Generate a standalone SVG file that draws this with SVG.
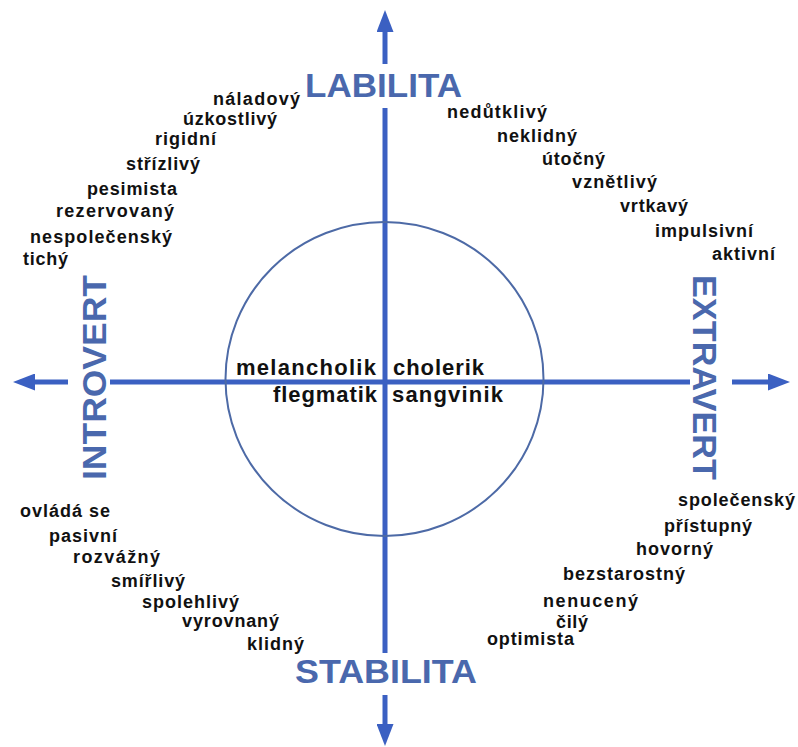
<svg xmlns="http://www.w3.org/2000/svg" width="798" height="747" viewBox="0 0 798 747">
<style>
.axis{stroke:#3b60c2;stroke-width:5;fill:none}
.circ{stroke:#4d6aa6;stroke-width:2;fill:none}
.lbl{font-family:"Liberation Sans",Arial,sans-serif;font-weight:bold;fill:#4a68ad;font-size:34px}
.w{font-family:"Liberation Sans",Arial,sans-serif;font-weight:bold;fill:#111;font-size:18px}
.t{font-family:"Liberation Sans",Arial,sans-serif;font-weight:bold;fill:#111;font-size:22px}
</style>
<defs>
<marker id="ah" viewBox="0 0 22 17" refX="0" refY="8.5" markerWidth="22" markerHeight="17" markerUnits="userSpaceOnUse" orient="auto">
<path d="M0,0 L22,8.5 L0,17 z" fill="#3b60c2"/>
</marker>
</defs>
<rect width="798" height="747" fill="#fff"/>
<g id="connectors">
<line class="axis" x1="385" y1="64" x2="385" y2="32" marker-end="url(#ah)"/>
<line class="axis" x1="385" y1="695" x2="385" y2="724" marker-end="url(#ah)"/>
<line class="axis" x1="68" y1="382" x2="35" y2="382" marker-end="url(#ah)"/>
<line class="axis" x1="732" y1="382" x2="768" y2="382" marker-end="url(#ah)"/>
<line class="axis" x1="385" y1="108" x2="385" y2="653"/>
<line class="axis" x1="110" y1="382" x2="690" y2="382"/>
</g>
<g id="circle"><ellipse class="circ" cx="384.5" cy="379" rx="159" ry="157"/></g>
<g id="labilita"><text class="lbl" x="305" y="97" textLength="157" lengthAdjust="spacingAndGlyphs">LABILITA</text></g>
<g id="stabilita"><text class="lbl" x="295" y="683" textLength="182" lengthAdjust="spacingAndGlyphs">STABILITA</text></g>
<g id="introvert"><text class="lbl" font-size="36" transform="translate(106,377.5) rotate(-90)" text-anchor="middle" textLength="205" lengthAdjust="spacingAndGlyphs">INTROVERT</text></g>
<g id="extravert"><text class="lbl" font-size="36" transform="translate(693,377.5) rotate(90)" text-anchor="middle" textLength="205" lengthAdjust="spacingAndGlyphs">EXTRAVERT</text></g>
<g id="temperaments">
<text class="t" x="236" y="375" textLength="140" lengthAdjust="spacing">melancholik</text>
<text class="t" x="393" y="375" textLength="91" lengthAdjust="spacing">cholerik</text>
<text class="t" x="273" y="402" textLength="104" lengthAdjust="spacing">flegmatik</text>
<text class="t" x="392" y="402" textLength="111" lengthAdjust="spacing">sangvinik</text>
</g>
<g id="words-tl">
<text class="w" x="213" y="105" textLength="87" lengthAdjust="spacing">náladový</text>
<text class="w" x="183" y="125" textLength="94" lengthAdjust="spacing">úzkostlivý</text>
<text class="w" x="155" y="145" textLength="61" lengthAdjust="spacing">rigidní</text>
<text class="w" x="126" y="170" textLength="74" lengthAdjust="spacing">střízlivý</text>
<text class="w" x="87" y="195" textLength="90" lengthAdjust="spacing">pesimista</text>
<text class="w" x="56" y="217" textLength="118" lengthAdjust="spacing">rezervovaný</text>
<text class="w" x="30" y="243" textLength="142" lengthAdjust="spacing">nespolečenský</text>
<text class="w" x="23" y="265" textLength="45" lengthAdjust="spacing">tichý</text>
</g>
<g id="words-tr">
<text class="w" x="447" y="118" textLength="100" lengthAdjust="spacing">nedůtklivý</text>
<text class="w" x="497" y="142" textLength="80" lengthAdjust="spacing">neklidný</text>
<text class="w" x="542" y="165" textLength="63" lengthAdjust="spacing">útočný</text>
<text class="w" x="572" y="188" textLength="85" lengthAdjust="spacing">vznětlivý</text>
<text class="w" x="620" y="212" textLength="68" lengthAdjust="spacing">vrtkavý</text>
<text class="w" x="655" y="237" textLength="98" lengthAdjust="spacing">impulsivní</text>
<text class="w" x="712" y="260" textLength="63" lengthAdjust="spacing">aktivní</text>
</g>
<g id="words-bl">
<text class="w" x="20" y="517" textLength="90" lengthAdjust="spacing">ovládá se</text>
<text class="w" x="49" y="542" textLength="68" lengthAdjust="spacing">pasivní</text>
<text class="w" x="73" y="563" textLength="87" lengthAdjust="spacing">rozvážný</text>
<text class="w" x="111" y="587" textLength="74" lengthAdjust="spacing">smířlivý</text>
<text class="w" x="142" y="608" textLength="97" lengthAdjust="spacing">spolehlivý</text>
<text class="w" x="182" y="627" textLength="97" lengthAdjust="spacing">vyrovnaný</text>
<text class="w" x="247" y="650" textLength="57" lengthAdjust="spacing">klidný</text>
</g>
<g id="words-br">
<text class="w" x="678" y="506" textLength="117" lengthAdjust="spacing">společenský</text>
<text class="w" x="664" y="532" textLength="88" lengthAdjust="spacing">přístupný</text>
<text class="w" x="636" y="555" textLength="77" lengthAdjust="spacing">hovorný</text>
<text class="w" x="563" y="580" textLength="122" lengthAdjust="spacing">bezstarostný</text>
<text class="w" x="543" y="607" textLength="95" lengthAdjust="spacing">nenucený</text>
<text class="w" x="556" y="628" textLength="32" lengthAdjust="spacing">čilý</text>
<text class="w" x="487" y="645" textLength="87" lengthAdjust="spacing">optimista</text>
</g>
</svg>
